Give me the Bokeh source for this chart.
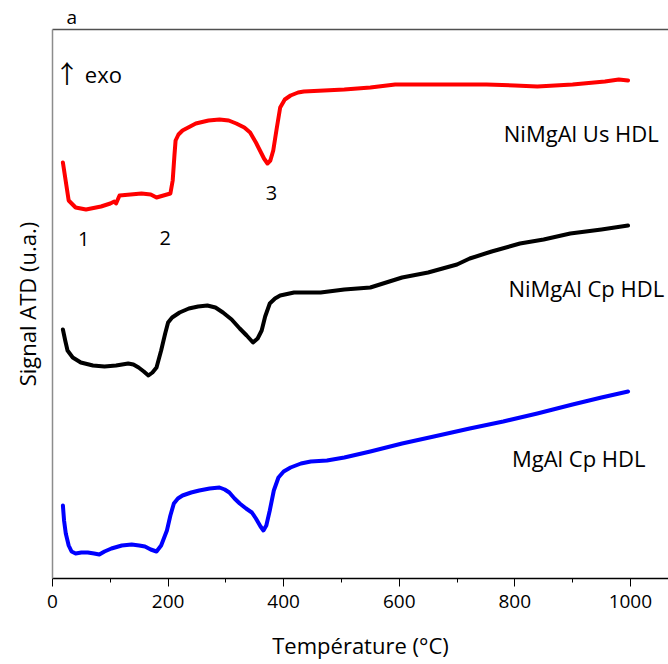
from bokeh.plotting import figure
from bokeh.models import (Range1d, LinearAxis, SingleIntervalTicker, FixedTicker, Label)
from bokeh.embed import file_html
from bokeh.resources import INLINE

# ---- data ----
temp_us = [18, 28, 40, 58, 84, 100, 107, 110, 116, 135, 154, 170, 180, 192, 204, 208, 211, 213,
           218, 225, 248, 270, 289, 305, 318, 332, 342, 352, 359, 366, 372, 377, 382, 388, 394,
           402, 412, 425, 435, 470, 505, 550, 593, 650, 700, 751, 800, 839, 900, 956, 980, 996]
sig_us = [41.6, 37.8, 37.1, 36.9, 37.2, 37.5, 37.7, 37.5, 38.3, 38.4, 38.5, 38.4, 38.1, 38.3,
          38.5, 39.8, 42.3, 43.8, 44.4, 44.8, 45.5, 45.8, 45.9, 45.8, 45.5, 45.1, 44.6, 43.6,
          42.8, 42.0, 41.5, 41.8, 42.8, 45.0, 47.1, 47.9, 48.3, 48.6, 48.7, 48.8, 48.9, 49.1,
          49.4, 49.4, 49.4, 49.4, 49.3, 49.2, 49.4, 49.7, 49.9, 49.8]

temp_nicp = [18, 22, 26, 35, 49, 70, 90, 110, 131, 140, 149, 158, 166, 173, 180, 188, 195, 200,
             207, 220, 236, 252, 268, 282, 295, 310, 324, 336, 347, 355, 362, 368, 376, 385, 394,
             418, 464, 505, 550, 605, 650, 700, 722, 760, 809, 850, 896, 950, 996]
sig_nicp = [24.9, 23.8, 22.8, 22.1, 21.6, 21.3, 21.2, 21.3, 21.5, 21.4, 21.1, 20.7, 20.3, 20.6,
            21.1, 22.8, 24.5, 25.6, 26.1, 26.6, 27.0, 27.2, 27.3, 27.1, 26.6, 25.9, 25.0, 24.3,
            23.6, 24.0, 24.8, 26.2, 27.5, 28.0, 28.3, 28.6, 28.6, 28.9, 29.1, 30.1, 30.6, 31.4,
            32.0, 32.7, 33.5, 33.9, 34.5, 34.9, 35.3]

temp_mgcp = [18, 20, 23, 28, 33, 40, 50, 61, 72, 81, 90, 102, 120, 137, 150, 160, 170, 180, 188,
             198, 204, 210, 217, 225, 240, 254, 272, 289, 298, 306, 315, 324, 335, 345, 352, 360,
             365, 370, 376, 383, 391, 400, 412, 430, 447, 475, 505, 550, 605, 660, 722, 780, 839,
             900, 950, 996]
sig_mgcp = [7.3, 5.8, 4.5, 3.3, 2.7, 2.5, 2.6, 2.6, 2.5, 2.4, 2.7, 3.0, 3.3, 3.4, 3.3, 3.2, 2.9,
            2.7, 3.3, 4.8, 6.3, 7.5, 8.0, 8.3, 8.6, 8.8, 9.0, 9.1, 8.9, 8.6, 8.0, 7.5, 7.0, 6.6,
            6.0, 5.2, 4.8, 5.3, 6.8, 8.8, 10.1, 10.7, 11.1, 11.5, 11.7, 11.8, 12.1, 12.7, 13.5,
            14.2, 15.0, 15.7, 16.5, 17.4, 18.1, 18.7]

series_names = ["NiMgAl Us HDL", "NiMgAl Cp HDL", "MgAl Cp HDL"]
panel_letter = "a"

FONT = "Open Sans"

p = figure(width=668, height=664, output_backend="svg", toolbar_location=None,
           x_range=Range1d(0, 1066), y_range=Range1d(0, 54.9),
           min_border_left=52, min_border_top=29, min_border_bottom=86, min_border_right=0,
           x_axis_label="Température (°C)", y_axis_label="Signal ATD (u.a.)",
           title=panel_letter)
p.grid.visible = False
p.outline_line_color = None
p.background_fill_color = "white"
p.border_fill_color = "white"

p.title.text_font = FONT
p.title.text_font_size = "19px"
p.title.text_font_style = "normal"
p.title.text_color = "black"
p.title.align = "left"
p.title.offset = 14
p.title.standoff = 0

for xs, ys, col in [(temp_us, sig_us, "#FF0000"), (temp_nicp, sig_nicp, "#000000"),
                    (temp_mgcp, sig_mgcp, "#0000FF")]:
    p.line(xs, ys, line_color=col, line_width=4, line_join="round", line_cap="round")

# x axis
xa = p.xaxis[0]
xa.ticker = SingleIntervalTicker(interval=200, num_minor_ticks=2)
xa.major_tick_out = 8
xa.major_tick_in = 0
xa.minor_tick_out = 4
xa.minor_tick_in = 0
xa.axis_line_color = "black"
xa.axis_line_width = 1.5
xa.major_tick_line_color = "black"
xa.minor_tick_line_color = "black"
xa.major_label_text_font = FONT
xa.major_label_text_font_size = "19px"
xa.major_label_text_color = "black"
xa.major_label_standoff = 8
xa.axis_label_text_font = FONT
xa.axis_label_text_font_size = "22px"
xa.axis_label_text_font_style = "normal"
xa.axis_label_text_color = "black"
xa.axis_label_standoff = 19

# y axis (no ticks)
ya = p.yaxis[0]
ya.ticker = FixedTicker(ticks=[])
ya.major_tick_out = 0
ya.minor_tick_out = 0
ya.major_label_text_font_size = "0px"
ya.axis_line_color = "#8c8c8c"
ya.axis_line_width = 1.5
ya.axis_label_text_font = FONT
ya.axis_label_text_font_size = "22px"
ya.axis_label_text_font_style = "normal"
ya.axis_label_text_color = "black"
ya.axis_label_standoff = 11

# top border line
top = LinearAxis(ticker=FixedTicker(ticks=[]), major_label_text_font_size="0px",
                 major_tick_out=0, minor_tick_out=0, major_label_standoff=0,
                 axis_line_color="#505050", axis_line_width=1.5)
p.add_layout(top, "above")

# annotations
ann = [
    (series_names[0], 781, 44.6, FONT, 22, "left"),
    (series_names[1], 789, 29.1, FONT, 22, "left"),
    (series_names[2], 795, 12.1, FONT, 22, "left"),
    ("1", 54, 34.0, FONT, 20, "center"),
    ("2", 195, 34.1, FONT, 20, "center"),
    ("3", 379, 38.6, FONT, 20, "center"),
    ("↑", 25, 50.7, "Noto Sans CJK SC", 25, "center"),
    ("exo", 56, 50.5, FONT, 22, "left"),
]
for txt, x, y, fnt, fs, al in ann:
    p.add_layout(Label(x=x, y=y, text=txt, text_font=fnt, text_font_size=f"{fs}px",
                       text_align=al, text_baseline="middle", text_color="black"))

open("out.html", "w").write(file_html(p, INLINE))
